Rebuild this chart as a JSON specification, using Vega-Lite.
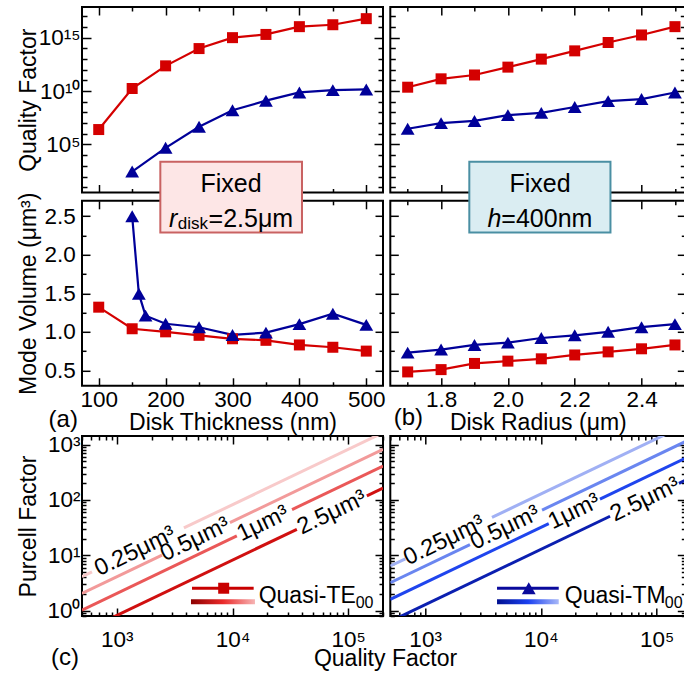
{
  "$schema": "https://vega.github.io/schema/vega-lite/v6.json",
  "background": "white",
  "padding": {"left": 15, "top": 4, "right": 0, "bottom": 0},
  "config": {
    "font": "Liberation Sans",
    "view": {"stroke": "black", "strokeWidth": 2},
    "axis": {"domain": false, "grid": false, "tickColor": "black", "tickWidth": 1.5, "labelColor": "black", "titleColor": "black", "labelFontSize": 22.5, "titleFontSize": 23, "titleFontWeight": "normal", "labelFont": "Liberation Sans", "titleFont": "Liberation Sans", "labelOverlap": false, "labelFlush": false, "labelBound": false},
    "text": {"font": "Liberation Sans", "color": "black"}
  },
  "datasets": {
    "thickQ": [
      {"h": 100, "mode": "TE", "Q": 2.5e6}, {"h": 150, "mode": "TE", "Q": 1.74e10}, {"h": 200, "mode": "TE", "Q": 2.29e12}, {"h": 250, "mode": "TE", "Q": 9.5e13}, {"h": 300, "mode": "TE", "Q": 1.0e15}, {"h": 350, "mode": "TE", "Q": 2.0e15}, {"h": 400, "mode": "TE", "Q": 1.07e16}, {"h": 450, "mode": "TE", "Q": 1.62e16}, {"h": 500, "mode": "TE", "Q": 6.0e16},
      {"h": 150, "mode": "TM", "Q": 290}, {"h": 200, "mode": "TM", "Q": 4.9e4}, {"h": 250, "mode": "TM", "Q": 4.5e6}, {"h": 300, "mode": "TM", "Q": 1.6e8}, {"h": 350, "mode": "TM", "Q": 1.26e9}, {"h": 400, "mode": "TM", "Q": 7.4e9}, {"h": 450, "mode": "TM", "Q": 1.23e10}, {"h": 500, "mode": "TM", "Q": 1.41e10}
    ],
    "thickV": [
      {"h": 100, "mode": "TE", "V": 1.32}, {"h": 150, "mode": "TE", "V": 1.04}, {"h": 200, "mode": "TE", "V": 1.0}, {"h": 250, "mode": "TE", "V": 0.955}, {"h": 300, "mode": "TE", "V": 0.91}, {"h": 350, "mode": "TE", "V": 0.89}, {"h": 400, "mode": "TE", "V": 0.83}, {"h": 450, "mode": "TE", "V": 0.8}, {"h": 500, "mode": "TE", "V": 0.75},
      {"h": 150, "mode": "TM", "V": 2.5}, {"h": 160, "mode": "TM", "V": 1.495}, {"h": 170, "mode": "TM", "V": 1.21}, {"h": 200, "mode": "TM", "V": 1.105}, {"h": 250, "mode": "TM", "V": 1.06}, {"h": 300, "mode": "TM", "V": 0.96}, {"h": 350, "mode": "TM", "V": 0.99}, {"h": 400, "mode": "TM", "V": 1.1}, {"h": 450, "mode": "TM", "V": 1.235}, {"h": 500, "mode": "TM", "V": 1.09}
    ],
    "radQ": [
      {"r": 1.7, "mode": "TE", "Q": 2.3e10}, {"r": 1.8, "mode": "TE", "Q": 1.4e11}, {"r": 1.9, "mode": "TE", "Q": 3.2e11}, {"r": 2.0, "mode": "TE", "Q": 1.74e12}, {"r": 2.1, "mode": "TE", "Q": 9.8e12}, {"r": 2.2, "mode": "TE", "Q": 5.8e13}, {"r": 2.3, "mode": "TE", "Q": 3.5e14}, {"r": 2.4, "mode": "TE", "Q": 1.78e15}, {"r": 2.5, "mode": "TE", "Q": 1.07e16},
      {"r": 1.7, "mode": "TM", "Q": 2.95e6}, {"r": 1.8, "mode": "TM", "Q": 1.0e7}, {"r": 1.9, "mode": "TM", "Q": 1.6e7}, {"r": 2.0, "mode": "TM", "Q": 5.6e7}, {"r": 2.1, "mode": "TM", "Q": 9.1e7}, {"r": 2.2, "mode": "TM", "Q": 3.2e8}, {"r": 2.3, "mode": "TM", "Q": 1.15e9}, {"r": 2.4, "mode": "TM", "Q": 1.78e9}, {"r": 2.5, "mode": "TM", "Q": 7.4e9}
    ],
    "radV": [
      {"r": 1.7, "mode": "TE", "V": 0.48}, {"r": 1.8, "mode": "TE", "V": 0.51}, {"r": 1.9, "mode": "TE", "V": 0.59}, {"r": 2.0, "mode": "TE", "V": 0.62}, {"r": 2.1, "mode": "TE", "V": 0.65}, {"r": 2.2, "mode": "TE", "V": 0.7}, {"r": 2.3, "mode": "TE", "V": 0.74}, {"r": 2.4, "mode": "TE", "V": 0.78}, {"r": 2.5, "mode": "TE", "V": 0.83},
      {"r": 1.7, "mode": "TM", "V": 0.73}, {"r": 1.8, "mode": "TM", "V": 0.77}, {"r": 1.9, "mode": "TM", "V": 0.83}, {"r": 2.0, "mode": "TM", "V": 0.86}, {"r": 2.1, "mode": "TM", "V": 0.92}, {"r": 2.2, "mode": "TM", "V": 0.955}, {"r": 2.3, "mode": "TM", "V": 1.0}, {"r": 2.4, "mode": "TM", "V": 1.06}, {"r": 2.5, "mode": "TM", "V": 1.1}
    ],
    "purcell": [
      {"panel": "TE", "V": "0.25", "seg": 1, "Q": 500, "F": 4.1}, {"panel": "TE", "V": "0.25", "seg": 1, "Q": 610, "F": 5.0},
      {"panel": "TE", "V": "0.25", "seg": 2, "Q": 3800, "F": 31.16}, {"panel": "TE", "V": "0.25", "seg": 2, "Q": 200000, "F": 1640},
      {"panel": "TE", "V": "0.5", "seg": 1, "Q": 500, "F": 2.05}, {"panel": "TE", "V": "0.5", "seg": 1, "Q": 2460, "F": 10.09},
      {"panel": "TE", "V": "0.5", "seg": 2, "Q": 9500, "F": 38.95}, {"panel": "TE", "V": "0.5", "seg": 2, "Q": 200000, "F": 820},
      {"panel": "TE", "V": "1", "seg": 1, "Q": 500, "F": 1.025}, {"panel": "TE", "V": "1", "seg": 1, "Q": 10900, "F": 22.35},
      {"panel": "TE", "V": "1", "seg": 2, "Q": 32700, "F": 67.0}, {"panel": "TE", "V": "1", "seg": 2, "Q": 200000, "F": 410},
      {"panel": "TE", "V": "2.5", "seg": 1, "Q": 500, "F": 0.41}, {"panel": "TE", "V": "2.5", "seg": 1, "Q": 36000, "F": 29.5},
      {"panel": "TE", "V": "2.5", "seg": 2, "Q": 145000, "F": 118.9}, {"panel": "TE", "V": "2.5", "seg": 2, "Q": 200000, "F": 164},
      {"panel": "TM", "V": "0.25", "seg": 1, "Q": 500, "F": 6.4}, {"panel": "TM", "V": "0.25", "seg": 1, "Q": 675, "F": 8.64},
      {"panel": "TM", "V": "0.25", "seg": 2, "Q": 3780, "F": 48.4}, {"panel": "TM", "V": "0.25", "seg": 2, "Q": 177000, "F": 2266},
      {"panel": "TM", "V": "0.5", "seg": 1, "Q": 500, "F": 3.2}, {"panel": "TM", "V": "0.5", "seg": 1, "Q": 2440, "F": 15.6},
      {"panel": "TM", "V": "0.5", "seg": 2, "Q": 10240, "F": 65.5}, {"panel": "TM", "V": "0.5", "seg": 2, "Q": 177000, "F": 1133},
      {"panel": "TM", "V": "1", "seg": 1, "Q": 500, "F": 1.6}, {"panel": "TM", "V": "1", "seg": 1, "Q": 11700, "F": 37.4},
      {"panel": "TM", "V": "1", "seg": 2, "Q": 32400, "F": 103.7}, {"panel": "TM", "V": "1", "seg": 2, "Q": 177000, "F": 566},
      {"panel": "TM", "V": "2.5", "seg": 1, "Q": 500, "F": 0.64}, {"panel": "TM", "V": "2.5", "seg": 1, "Q": 39600, "F": 50.7},
      {"panel": "TM", "V": "2.5", "seg": 2, "Q": 156000, "F": 199.7}, {"panel": "TM", "V": "2.5", "seg": 2, "Q": 177000, "F": 226.6}
    ],
    "plabels": [
      {"panel": "TE", "V": "0.25", "Q": 1436, "F": 11.8, "label": "0.25μm³"},
      {"panel": "TE", "V": "0.5", "Q": 4740, "F": 19.4, "label": "0.5μm³"},
      {"panel": "TE", "V": "1", "Q": 18300, "F": 37.5, "label": "1μm³"},
      {"panel": "TE", "V": "2.5", "Q": 72400, "F": 59.4, "label": "2.5μm³"},
      {"panel": "TM", "V": "0.25", "Q": 1456, "F": 18.6, "label": "0.25μm³"},
      {"panel": "TM", "V": "0.5", "Q": 4900, "F": 31.4, "label": "0.5μm³"},
      {"panel": "TM", "V": "1", "Q": 19370, "F": 62, "label": "1μm³"},
      {"panel": "TM", "V": "2.5", "Q": 79400, "F": 101.6, "label": "2.5μm³"}
    ]
  },
  "spacing": -4,
  "bounds": "full",
  "resolve": {"scale": {"color": "independent"}},
  "vconcat": [
    {
      "columns": 2,
      "spacing": {"row": 7.8, "column": 7.3},
      "bounds": "flush",
      "concat": [
        {
          "width": 301, "height": 185.5,
          "layer": [
            {"data": {"name": "thickQ"}, "mark": {"type": "line", "strokeWidth": 2.2},
             "encoding": {
               "x": {"field": "h", "type": "quantitative", "scale": {"domain": [75, 525], "nice": false, "zero": false},
                     "axis": {"orient": "bottom", "values": [100,150,200,250,300,350,400,450,500], "labels": false, "title": null, "tickSize": {"condition": {"test": "datum.value%100==0", "value": -8}, "value": -4}}},
               "y": {"field": "Q", "type": "quantitative", "scale": {"type": "log", "domain": [3.2, 7.4e17], "nice": false},
                     "axis": {"orient": "left", "values": [10,100,1000,1e4,1e5,1e6,1e7,1e8,1e9,1e10,1e11,1e12,1e13,1e14,1e15,1e16,1e17], "labelExpr": "datum.value==1e5?'10⁵':datum.value==1e10?'10¹⁰':datum.value==1e15?'10¹⁵':''", "labelPadding": 11, "title": "Quality Factor", "titleX": -54, "titleY": 92.75, "titleAngle": 270, "titleAlign": "center", "titleBaseline": "middle", "tickSize": {"condition": {"test": "datum.value==1e5||datum.value==1e10||datum.value==1e15", "value": -9}, "value": -5}}},
               "color": {"field": "mode", "type": "nominal", "scale": {"domain": ["TE", "TM"], "range": ["#d40000", "#000099"]}, "legend": null}
             }},
            {"data": {"name": "thickQ"}, "transform": [{"filter": "datum.mode=='TE'"}], "mark": {"type": "square", "size": 121, "color": "#d40000", "opacity": 1},
             "encoding": {"x": {"field": "h", "type": "quantitative", "axis": null}, "y": {"field": "Q", "type": "quantitative", "axis": null}}},
            {"data": {"name": "thickQ"}, "transform": [{"filter": "datum.mode=='TM'"}], "mark": {"type": "point", "shape": "triangle-up", "filled": true, "size": 190, "color": "#000099", "opacity": 1},
             "encoding": {"x": {"field": "h", "type": "quantitative", "axis": null}, "y": {"field": "Q", "type": "quantitative", "axis": null}}},
            {"data": {"name": "thickQ"}, "mark": {"type": "point", "opacity": 0},
             "encoding": {
               "x": {"field": "h", "type": "quantitative", "axis": {"orient": "top", "values": [100,150,200,250,300,350,400,450,500], "labels": false, "title": null, "tickSize": {"condition": {"test": "datum.value%100==0", "value": -8}, "value": -4}}},
               "y": {"field": "Q", "type": "quantitative", "axis": {"orient": "right", "values": [10,100,1000,1e4,1e5,1e6,1e7,1e8,1e9,1e10,1e11,1e12,1e13,1e14,1e15,1e16,1e17], "labels": false, "title": null, "tickSize": {"condition": {"test": "datum.value==1e5||datum.value==1e10||datum.value==1e15", "value": -9}, "value": -5}}}
             }}
          ]
        },
        {
          "width": 295, "height": 185.5,
          "layer": [
            {"data": {"name": "radQ"}, "mark": {"type": "line", "strokeWidth": 2.2},
             "encoding": {
               "x": {"field": "r", "type": "quantitative", "scale": {"domain": [1.648, 2.531], "nice": false, "zero": false},
                     "axis": {"orient": "bottom", "values": [1.7,1.8,1.9,2.0,2.1,2.2,2.3,2.4,2.5], "labels": false, "title": null, "tickSize": {"condition": {"test": "abs(datum.value*5-round(datum.value*5))<0.001", "value": -8}, "value": -4}}},
               "y": {"field": "Q", "type": "quantitative", "scale": {"type": "log", "domain": [3.2, 7.4e17], "nice": false},
                     "axis": {"orient": "left", "values": [10,100,1000,1e4,1e5,1e6,1e7,1e8,1e9,1e10,1e11,1e12,1e13,1e14,1e15,1e16,1e17], "labels": false, "title": null, "tickSize": {"condition": {"test": "datum.value==1e5||datum.value==1e10||datum.value==1e15", "value": -9}, "value": -5}}},
               "color": {"field": "mode", "type": "nominal", "scale": {"domain": ["TE", "TM"], "range": ["#d40000", "#000099"]}, "legend": null}
             }},
            {"data": {"name": "radQ"}, "transform": [{"filter": "datum.mode=='TE'"}], "mark": {"type": "square", "size": 121, "color": "#d40000", "opacity": 1},
             "encoding": {"x": {"field": "r", "type": "quantitative", "axis": null}, "y": {"field": "Q", "type": "quantitative", "axis": null}}},
            {"data": {"name": "radQ"}, "transform": [{"filter": "datum.mode=='TM'"}], "mark": {"type": "point", "shape": "triangle-up", "filled": true, "size": 190, "color": "#000099", "opacity": 1},
             "encoding": {"x": {"field": "r", "type": "quantitative", "axis": null}, "y": {"field": "Q", "type": "quantitative", "axis": null}}},
            {"data": {"name": "radQ"}, "mark": {"type": "point", "opacity": 0},
             "encoding": {
               "x": {"field": "r", "type": "quantitative", "axis": {"orient": "top", "values": [1.7,1.8,1.9,2.0,2.1,2.2,2.3,2.4,2.5], "labels": false, "title": null, "tickSize": {"condition": {"test": "abs(datum.value*5-round(datum.value*5))<0.001", "value": -8}, "value": -4}}},
               "y": {"field": "Q", "type": "quantitative", "axis": {"orient": "right", "values": [10,100,1000,1e4,1e5,1e6,1e7,1e8,1e9,1e10,1e11,1e12,1e13,1e14,1e15,1e16,1e17], "labels": false, "title": null, "tickSize": {"condition": {"test": "datum.value==1e5||datum.value==1e10||datum.value==1e15", "value": -9}, "value": -5}}}
             }}
          ]
        },
        {
          "width": 301, "height": 185,
          "layer": [
            {"data": {"name": "thickV"}, "mark": {"type": "line", "strokeWidth": 2.2},
             "encoding": {
               "x": {"field": "h", "type": "quantitative", "scale": {"domain": [75, 525], "nice": false, "zero": false},
                     "axis": {"orient": "bottom", "values": [100,150,200,250,300,350,400,450,500], "labelExpr": "datum.value%100==0?format(datum.value,'d'):''", "labelPadding": 11, "title": "Disk Thickness (nm)", "titleY": 37, "titleBaseline": "middle", "tickSize": {"condition": {"test": "datum.value%100==0", "value": -8}, "value": -4}}},
               "y": {"field": "V", "type": "quantitative", "scale": {"domain": [0.3, 2.7], "nice": false, "zero": false},
                     "axis": {"orient": "left", "values": [0.5,0.75,1,1.25,1.5,1.75,2,2.25,2.5], "labelExpr": "(datum.value*2)%1==0?format(datum.value,'.1f'):''", "labelPadding": 14.7, "title": "Mode Volume (μm³)", "titleX": -54, "titleY": 92.5, "titleAngle": 270, "titleAlign": "center", "titleBaseline": "middle", "tickSize": {"condition": {"test": "(datum.value*2)%1==0", "value": -8}, "value": -4}}},
               "color": {"field": "mode", "type": "nominal", "scale": {"domain": ["TE", "TM"], "range": ["#d40000", "#000099"]}, "legend": null}
             }},
            {"data": {"name": "thickV"}, "transform": [{"filter": "datum.mode=='TE'"}], "mark": {"type": "square", "size": 121, "color": "#d40000", "opacity": 1},
             "encoding": {"x": {"field": "h", "type": "quantitative", "axis": null}, "y": {"field": "V", "type": "quantitative", "axis": null}}},
            {"data": {"name": "thickV"}, "transform": [{"filter": "datum.mode=='TM'"}], "mark": {"type": "point", "shape": "triangle-up", "filled": true, "size": 190, "color": "#000099", "opacity": 1},
             "encoding": {"x": {"field": "h", "type": "quantitative", "axis": null}, "y": {"field": "V", "type": "quantitative", "axis": null}}},
            {"data": {"name": "thickV"}, "mark": {"type": "point", "opacity": 0},
             "encoding": {
               "x": {"field": "h", "type": "quantitative", "axis": {"orient": "top", "values": [100,150,200,250,300,350,400,450,500], "labels": false, "title": null, "tickSize": {"condition": {"test": "datum.value%100==0", "value": -8}, "value": -4}}},
               "y": {"field": "V", "type": "quantitative", "axis": {"orient": "right", "values": [0.5,0.75,1,1.25,1.5,1.75,2,2.25,2.5], "labels": false, "title": null, "tickSize": {"condition": {"test": "(datum.value*2)%1==0", "value": -8}, "value": -4}}}
             }},
            {"data": {"values": [{}]}, "mark": {"type": "rect", "fill": "#fde6e6", "stroke": "#c96262", "strokeWidth": 2},
             "encoding": {"x": {"datum": 192.1, "type": "quantitative", "axis": null}, "x2": {"datum": 403.9}, "y": {"datum": 3.206, "type": "quantitative", "axis": null}, "y2": {"datum": 2.289}}},
            {"data": {"values": [{}]}, "mark": {"type": "text", "text": "Fixed", "fontSize": 25, "align": "center", "baseline": "middle"},
             "encoding": {"x": {"datum": 297.8, "type": "quantitative", "axis": null}, "y": {"datum": 2.924, "type": "quantitative", "axis": null}}},
            {"data": {"values": [{}]}, "mark": {"type": "text", "text": "r", "fontSize": 25, "fontStyle": "italic", "align": "left", "baseline": "middle", "dx": -62},
             "encoding": {"x": {"datum": 297.8, "type": "quantitative", "axis": null}, "y": {"datum": 2.47, "type": "quantitative", "axis": null}}},
            {"data": {"values": [{}]}, "mark": {"type": "text", "text": "disk", "fontSize": 17, "align": "left", "baseline": "middle", "dx": -53.2, "dy": 5},
             "encoding": {"x": {"datum": 297.8, "type": "quantitative", "axis": null}, "y": {"datum": 2.47, "type": "quantitative", "axis": null}}},
            {"data": {"values": [{}]}, "mark": {"type": "text", "text": "=2.5μm", "fontSize": 25, "align": "left", "baseline": "middle", "dx": -22.5},
             "encoding": {"x": {"datum": 297.8, "type": "quantitative", "axis": null}, "y": {"datum": 2.47, "type": "quantitative", "axis": null}}},
            {"data": {"values": [{}]}, "mark": {"type": "text", "text": "(a)", "fontSize": 24, "align": "center", "baseline": "middle"},
             "encoding": {"x": {"datum": 47, "type": "quantitative", "axis": null}, "y": {"datum": -0.15, "type": "quantitative", "axis": null}}}
          ]
        },
        {
          "width": 295, "height": 185,
          "layer": [
            {"data": {"name": "radV"}, "mark": {"type": "line", "strokeWidth": 2.2},
             "encoding": {
               "x": {"field": "r", "type": "quantitative", "scale": {"domain": [1.648, 2.531], "nice": false, "zero": false},
                     "axis": {"orient": "bottom", "values": [1.7,1.8,1.9,2.0,2.1,2.2,2.3,2.4,2.5], "labelExpr": "abs(datum.value*5-round(datum.value*5))<0.001?format(datum.value,'.1f'):''", "labelPadding": 11, "title": "Disk Radius (μm)", "titleY": 37, "titleBaseline": "middle", "tickSize": {"condition": {"test": "abs(datum.value*5-round(datum.value*5))<0.001", "value": -8}, "value": -4}}},
               "y": {"field": "V", "type": "quantitative", "scale": {"domain": [0.3, 2.7], "nice": false, "zero": false},
                     "axis": {"orient": "left", "values": [0.5,0.75,1,1.25,1.5,1.75,2,2.25,2.5], "labels": false, "title": null, "tickSize": {"condition": {"test": "(datum.value*2)%1==0", "value": -8}, "value": -4}}},
               "color": {"field": "mode", "type": "nominal", "scale": {"domain": ["TE", "TM"], "range": ["#d40000", "#000099"]}, "legend": null}
             }},
            {"data": {"name": "radV"}, "transform": [{"filter": "datum.mode=='TE'"}], "mark": {"type": "square", "size": 121, "color": "#d40000", "opacity": 1},
             "encoding": {"x": {"field": "r", "type": "quantitative", "axis": null}, "y": {"field": "V", "type": "quantitative", "axis": null}}},
            {"data": {"name": "radV"}, "transform": [{"filter": "datum.mode=='TM'"}], "mark": {"type": "point", "shape": "triangle-up", "filled": true, "size": 190, "color": "#000099", "opacity": 1},
             "encoding": {"x": {"field": "r", "type": "quantitative", "axis": null}, "y": {"field": "V", "type": "quantitative", "axis": null}}},
            {"data": {"name": "radV"}, "mark": {"type": "point", "opacity": 0},
             "encoding": {
               "x": {"field": "r", "type": "quantitative", "axis": {"orient": "top", "values": [1.7,1.8,1.9,2.0,2.1,2.2,2.3,2.4,2.5], "labels": false, "title": null, "tickSize": {"condition": {"test": "abs(datum.value*5-round(datum.value*5))<0.001", "value": -8}, "value": -4}}},
               "y": {"field": "V", "type": "quantitative", "axis": {"orient": "right", "values": [0.5,0.75,1,1.25,1.5,1.75,2,2.25,2.5], "labels": false, "title": null, "tickSize": {"condition": {"test": "(datum.value*2)%1==0", "value": -8}, "value": -4}}}
             }},
            {"data": {"values": [{}]}, "mark": {"type": "rect", "fill": "#daedf2", "stroke": "#4a8fa3", "strokeWidth": 2},
             "encoding": {"x": {"datum": 1.8845, "type": "quantitative", "axis": null}, "x2": {"datum": 2.307}, "y": {"datum": 3.206, "type": "quantitative", "axis": null}, "y2": {"datum": 2.289}}},
            {"data": {"values": [{}]}, "mark": {"type": "text", "text": "Fixed", "fontSize": 25, "align": "center", "baseline": "middle"},
             "encoding": {"x": {"datum": 2.096, "type": "quantitative", "axis": null}, "y": {"datum": 2.924, "type": "quantitative", "axis": null}}},
            {"data": {"values": [{}]}, "mark": {"type": "text", "text": "h", "fontSize": 25, "fontStyle": "italic", "align": "left", "baseline": "middle", "dx": -52.5},
             "encoding": {"x": {"datum": 2.096, "type": "quantitative", "axis": null}, "y": {"datum": 2.47, "type": "quantitative", "axis": null}}},
            {"data": {"values": [{}]}, "mark": {"type": "text", "text": "=400nm", "fontSize": 25, "align": "left", "baseline": "middle", "dx": -38.6},
             "encoding": {"x": {"datum": 2.096, "type": "quantitative", "axis": null}, "y": {"datum": 2.47, "type": "quantitative", "axis": null}}},
            {"data": {"values": [{}]}, "mark": {"type": "text", "text": "(b)", "fontSize": 24, "align": "center", "baseline": "middle"},
             "encoding": {"x": {"datum": 1.702, "type": "quantitative", "axis": null}, "y": {"datum": -0.12, "type": "quantitative", "axis": null}}}
          ]
        }
      ]
    },
    {
      "spacing": 7.3,
      "bounds": "flush",
      "resolve": {"scale": {"color": "independent"}},
      "hconcat": [
        {
          "width": 301, "height": 180,
          "layer": [
            {"data": {"name": "purcell"}, "transform": [{"filter": "datum.panel=='TE'"}], "mark": {"type": "line", "strokeWidth": 3, "clip": true},
             "encoding": {
               "x": {"field": "Q", "type": "quantitative", "scale": {"type": "log", "domain": [500, 200000], "nice": false},
                     "axis": {"orient": "bottom", "values": [500,600,700,800,900,1000,2000,3000,4000,5000,6000,7000,8000,9000,10000,20000,30000,40000,50000,60000,70000,80000,90000,100000,200000], "labelExpr": "datum.value==1000?'10³':datum.value==10000?'10⁴':datum.value==100000?'10⁵':''", "labelPadding": 20, "title": "Quality Factor", "titleX": 303, "titleY": 42, "titleAlign": "center", "titleBaseline": "middle", "tickSize": {"condition": {"test": "abs(log(datum.value)/LN10-round(log(datum.value)/LN10))<0.001", "value": -8}, "value": -4}}},
               "y": {"field": "F", "type": "quantitative", "scale": {"type": "log", "domain": [0.8, 1430], "nice": false},
                     "axis": {"orient": "left", "values": [0.8,0.9,1,2,3,4,5,6,7,8,9,10,20,30,40,50,60,70,80,90,100,200,300,400,500,600,700,800,900,1000], "labelExpr": "datum.value==1?'10⁰':datum.value==10?'10¹':datum.value==100?'10²':datum.value==1000?'10³':''", "labelPadding": 10, "title": "Purcell Factor", "titleX": -54, "titleY": 90, "titleAngle": 270, "titleAlign": "center", "titleBaseline": "middle", "tickSize": {"condition": {"test": "abs(log(datum.value)/LN10-round(log(datum.value)/LN10))<0.001", "value": -8}, "value": -4}}},
               "color": {"field": "V", "type": "nominal", "scale": {"domain": ["0.25", "0.5", "1", "2.5"], "range": ["#f8caca", "#f29a9a", "#ea5858", "#d01010"]}, "legend": null},
               "detail": {"field": "seg", "type": "nominal"}
             }},
            {"data": {"name": "plabels"}, "transform": [{"filter": "datum.panel=='TE'"}], "mark": {"type": "text", "fontSize": 23.5, "angle": 334.4, "align": "center", "baseline": "middle"},
             "encoding": {"x": {"field": "Q", "type": "quantitative", "axis": null}, "y": {"field": "F", "type": "quantitative", "axis": null}, "text": {"field": "label"}}},
            {"data": {"values": [{}]}, "mark": {"type": "rule", "color": "#c80000", "strokeWidth": 3},
             "encoding": {"x": {"datum": 4466, "type": "quantitative", "axis": null}, "x2": {"datum": 15240}, "y": {"datum": 2.54, "type": "quantitative", "axis": null}}},
            {"data": {"values": [{}]}, "mark": {"type": "square", "size": 121, "color": "#c80000", "opacity": 1},
             "encoding": {"x": {"datum": 8390, "type": "quantitative", "axis": null}, "y": {"datum": 2.54, "type": "quantitative", "axis": null}}},
            {"data": {"values": [{}]}, "mark": {"type": "rect", "fill": {"gradient": "linear", "x1": 0, "y1": 0, "x2": 1, "y2": 0, "stops": [{"offset": 0, "color": "#8c0000"}, {"offset": 0.5, "color": "#ea2a2a"}, {"offset": 1, "color": "#f6b4b4"}]}},
             "encoding": {"x": {"datum": 4377, "type": "quantitative", "axis": null}, "x2": {"datum": 15640}, "y": {"datum": 1.606, "type": "quantitative", "axis": null}, "y2": {"datum": 1.305}}},
            {"data": {"values": [{}]}, "mark": {"type": "text", "text": "Quasi-TE", "fontSize": 23, "align": "left", "baseline": "middle"},
             "encoding": {"x": {"datum": 16830, "type": "quantitative", "axis": null}, "y": {"datum": 1.874, "type": "quantitative", "axis": null}}},
            {"data": {"values": [{}]}, "mark": {"type": "text", "text": "00", "fontSize": 16, "align": "left", "baseline": "middle", "dx": 97, "dy": 7},
             "encoding": {"x": {"datum": 16830, "type": "quantitative", "axis": null}, "y": {"datum": 1.874, "type": "quantitative", "axis": null}}},
            {"data": {"values": [{}]}, "mark": {"type": "text", "text": "(c)", "fontSize": 24, "align": "center", "baseline": "middle"},
             "encoding": {"x": {"datum": 356, "type": "quantitative", "axis": null}, "y": {"datum": 0.141, "type": "quantitative", "axis": null}}},
            {"data": {"name": "plabels"}, "transform": [{"filter": "datum.panel=='TE'"}], "mark": {"type": "point", "opacity": 0},
             "encoding": {
               "x": {"field": "Q", "type": "quantitative", "axis": {"orient": "top", "values": [500,600,700,800,900,1000,2000,3000,4000,5000,6000,7000,8000,9000,10000,20000,30000,40000,50000,60000,70000,80000,90000,100000,200000], "labels": false, "title": null, "tickSize": {"condition": {"test": "abs(log(datum.value)/LN10-round(log(datum.value)/LN10))<0.001", "value": -8}, "value": -4}}},
               "y": {"field": "F", "type": "quantitative", "axis": {"orient": "right", "values": [0.8,0.9,1,2,3,4,5,6,7,8,9,10,20,30,40,50,60,70,80,90,100,200,300,400,500,600,700,800,900,1000], "labels": false, "title": null, "tickSize": {"condition": {"test": "abs(log(datum.value)/LN10-round(log(datum.value)/LN10))<0.001", "value": -8}, "value": -4}}}
             }}
          ]
        },
        {
          "width": 295, "height": 180,
          "layer": [
            {"data": {"name": "purcell"}, "transform": [{"filter": "datum.panel=='TM'"}], "mark": {"type": "line", "strokeWidth": 3, "clip": true},
             "encoding": {
               "x": {"field": "Q", "type": "quantitative", "scale": {"type": "log", "domain": [500, 177000], "nice": false},
                     "axis": {"orient": "bottom", "values": [500,600,700,800,900,1000,2000,3000,4000,5000,6000,7000,8000,9000,10000,20000,30000,40000,50000,60000,70000,80000,90000,100000], "labelExpr": "datum.value==1000?'10³':datum.value==10000?'10⁴':datum.value==100000?'10⁵':''", "labelPadding": 20, "title": null, "tickSize": {"condition": {"test": "abs(log(datum.value)/LN10-round(log(datum.value)/LN10))<0.001", "value": -8}, "value": -4}}},
               "y": {"field": "F", "type": "quantitative", "scale": {"type": "log", "domain": [0.8, 1430], "nice": false},
                     "axis": {"orient": "left", "values": [0.8,0.9,1,2,3,4,5,6,7,8,9,10,20,30,40,50,60,70,80,90,100,200,300,400,500,600,700,800,900,1000], "labels": false, "title": null, "tickSize": {"condition": {"test": "abs(log(datum.value)/LN10-round(log(datum.value)/LN10))<0.001", "value": -8}, "value": -4}}},
               "color": {"field": "V", "type": "nominal", "scale": {"domain": ["0.25", "0.5", "1", "2.5"], "range": ["#a0b0f4", "#6a86f0", "#1f45ee", "#0b1fb0"]}, "legend": null},
               "detail": {"field": "seg", "type": "nominal"}
             }},
            {"data": {"name": "plabels"}, "transform": [{"filter": "datum.panel=='TM'"}], "mark": {"type": "text", "fontSize": 23.5, "angle": 334.4, "align": "center", "baseline": "middle"},
             "encoding": {"x": {"field": "Q", "type": "quantitative", "axis": null}, "y": {"field": "F", "type": "quantitative", "axis": null}, "text": {"field": "label"}}},
            {"data": {"values": [{}]}, "mark": {"type": "rule", "color": "#0a0a9c", "strokeWidth": 3},
             "encoding": {"x": {"datum": 4180, "type": "quantitative", "axis": null}, "x2": {"datum": 14270}, "y": {"datum": 2.54, "type": "quantitative", "axis": null}}},
            {"data": {"values": [{}]}, "mark": {"type": "point", "shape": "triangle-up", "filled": true, "size": 190, "color": "#0a0a9c", "opacity": 1},
             "encoding": {"x": {"datum": 7860, "type": "quantitative", "axis": null}, "y": {"datum": 2.54, "type": "quantitative", "axis": null}}},
            {"data": {"values": [{}]}, "mark": {"type": "rect", "fill": {"gradient": "linear", "x1": 0, "y1": 0, "x2": 1, "y2": 0, "stops": [{"offset": 0, "color": "#001090"}, {"offset": 0.5, "color": "#1a40f0"}, {"offset": 1, "color": "#a8b8f8"}]}},
             "encoding": {"x": {"datum": 4180, "type": "quantitative", "axis": null}, "x2": {"datum": 14270}, "y": {"datum": 1.606, "type": "quantitative", "axis": null}, "y2": {"datum": 1.305}}},
            {"data": {"values": [{}]}, "mark": {"type": "text", "text": "Quasi-TM", "fontSize": 23, "align": "left", "baseline": "middle"},
             "encoding": {"x": {"datum": 16080, "type": "quantitative", "axis": null}, "y": {"datum": 1.874, "type": "quantitative", "axis": null}}},
            {"data": {"values": [{}]}, "mark": {"type": "text", "text": "00", "fontSize": 16, "align": "left", "baseline": "middle", "dx": 100, "dy": 7},
             "encoding": {"x": {"datum": 16080, "type": "quantitative", "axis": null}, "y": {"datum": 1.874, "type": "quantitative", "axis": null}}},
            {"data": {"name": "plabels"}, "transform": [{"filter": "datum.panel=='TM'"}], "mark": {"type": "point", "opacity": 0},
             "encoding": {
               "x": {"field": "Q", "type": "quantitative", "axis": {"orient": "top", "values": [500,600,700,800,900,1000,2000,3000,4000,5000,6000,7000,8000,9000,10000,20000,30000,40000,50000,60000,70000,80000,90000,100000], "labels": false, "title": null, "tickSize": {"condition": {"test": "abs(log(datum.value)/LN10-round(log(datum.value)/LN10))<0.001", "value": -8}, "value": -4}}},
               "y": {"field": "F", "type": "quantitative", "axis": {"orient": "right", "values": [0.8,0.9,1,2,3,4,5,6,7,8,9,10,20,30,40,50,60,70,80,90,100,200,300,400,500,600,700,800,900,1000], "labels": false, "title": null, "tickSize": {"condition": {"test": "abs(log(datum.value)/LN10-round(log(datum.value)/LN10))<0.001", "value": -8}, "value": -4}}}
             }}
          ]
        }
      ]
    }
  ]
}
